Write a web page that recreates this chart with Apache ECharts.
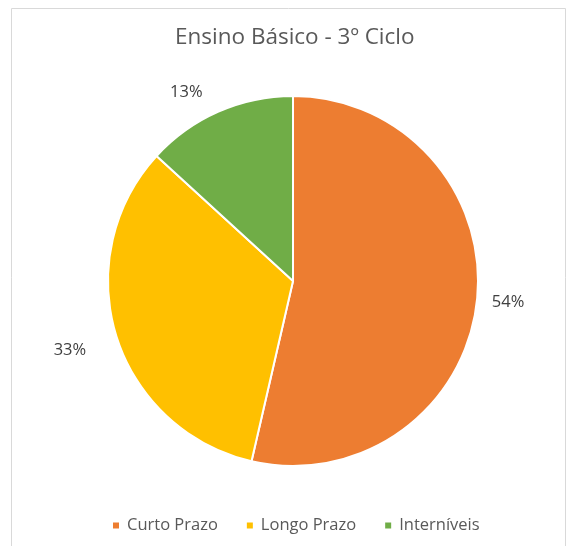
<!DOCTYPE html>
<html><head><meta charset="utf-8">
<script src="https://cdn.jsdelivr.net/npm/echarts@6/dist/echarts.min.js"></script>
<style>html,body{margin:0;padding:0;background:#fff}#c{width:568px;height:546px}</style>
</head><body><div id="c"></div>
<script>
const categories = ['Curto Prazo', 'Longo Prazo', 'Interníveis'];
const values = [53.6, 33.2, 13.2];
const colors = ['#ED7D31', '#FFC000', '#70AD47'];
const chart = echarts.init(document.getElementById('c'));
const font = '"Open Sans", "Noto Sans", sans-serif';
const lineLen = [[8, 2], [18, 8], [22, 4]];
const labOff = [[0, 0], [0, 9], [2, 1]];
chart.setOption({
  animation: false,
  graphic: [{type:'rect', shape:{x:11.5,y:8.5,width:554,height:545}, style:{fill:'none', stroke:'#d9d9d9', lineWidth:1}}],
  title: {text: 'Ensino Básico - 3º Ciclo', left: 170, top: 21,
    textStyle: {fontFamily: font, fontSize: 22.5, fontWeight: 'normal', color: '#595959'}},
  legend: {bottom: 7, left: 106, itemWidth: 8, itemHeight: 8, itemGap: 27, icon: 'rect',
    textStyle: {fontFamily: font, fontSize: 16.5, color: '#595959', padding: [0, 0, 0, 2]}, data: categories},
  series: [{
    type: 'pie', center: [293, 281], radius: 185, startAngle: 90, clockwise: true,
    percentPrecision: 0,
    itemStyle: {borderColor: '#fff', borderWidth: 2},
    label: {show: true, position: 'outside', formatter: '{d}%', fontFamily: font, fontSize: 16.5, color: '#404040'},
    labelLine: {show: false, length: 14, length2: 4},
    data: categories.map((n, i) => ({name: n, value: values[i], itemStyle: {color: colors[i]},
      label: {offset: labOff[i]},
      labelLine: {show: false, length: lineLen[i][0], length2: lineLen[i][1]}}))
  }]
});
</script></body></html>
